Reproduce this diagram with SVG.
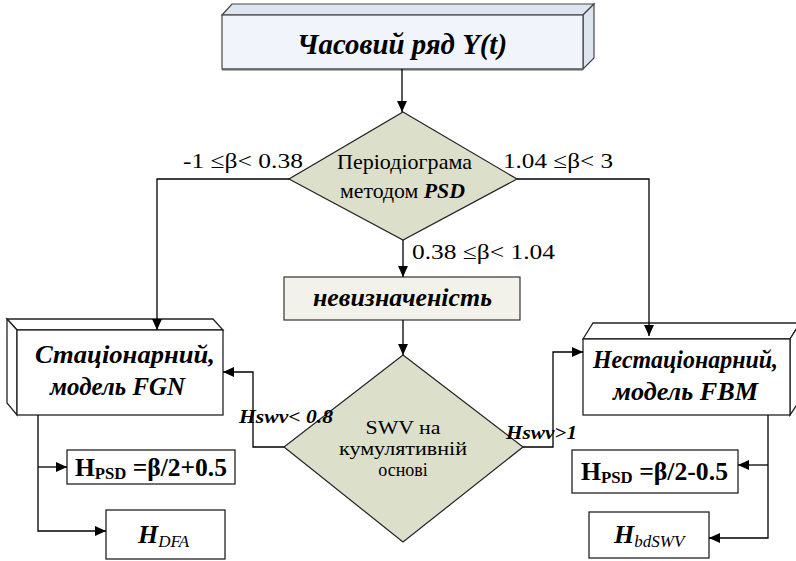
<svg xmlns="http://www.w3.org/2000/svg" width="796" height="561" viewBox="0 0 796 561">
<style>
text{font-family:"Liberation Serif","Times New Roman",serif;fill:#000}
.bi{font-weight:bold;font-style:italic}
.ln{fill:none;stroke:#000;stroke-width:1.3}
.bx{fill:#fff;stroke:#222;stroke-width:1.3}
.dia{fill:#dcdfca;stroke:#222;stroke-width:1.2}
</style>
<defs>
<marker id="ar" viewBox="0 0 10 10" refX="10" refY="5" markerWidth="11" markerHeight="11" markerUnits="userSpaceOnUse" orient="auto">
<path d="M0,0.5 L10,5 L0,9.5 z" fill="#000"/>
</marker>
</defs>
<rect width="796" height="561" fill="#fff"/>

<g id="timeseries">
<polygon points="222,15 232,4 594,4 583,15" fill="#dde6f0" stroke="#444" stroke-width="1.2"/>
<polygon points="583,15 594,4 594,58 583,69" fill="#dde6f0" stroke="#444" stroke-width="1.2"/>
<rect x="222" y="15" width="361" height="54" fill="#f1f5fb" stroke="#444" stroke-width="1.2"/>
<line x1="222" y1="69.5" x2="583" y2="69.5" stroke="#666" stroke-width="2"/>
<text x="297" y="54" font-size="30" class="bi" textLength="210" lengthAdjust="spacingAndGlyphs">Часовий ряд Y(t)</text>
</g>

<g id="psd">
<polygon points="403,112 517,179 403,240 289,179" class="dia"/>
<text x="337" y="169" font-size="21" textLength="135" lengthAdjust="spacingAndGlyphs">Періодіограма</text>
<text x="340" y="198" font-size="21" textLength="125" lengthAdjust="spacingAndGlyphs">методом <tspan class="bi">PSD</tspan></text>
</g>

<g id="uncertainty">
<rect x="284" y="277" width="236" height="43" fill="#f2f2ea" stroke="#333" stroke-width="1.2"/>
<text x="313" y="306" font-size="25" class="bi" textLength="179" lengthAdjust="spacingAndGlyphs">невизначеність</text>
</g>

<g id="swv">
<polygon points="403,355 523,447 403,542 284,447" class="dia"/>
<text x="403" y="434" font-size="18" text-anchor="middle" textLength="75" lengthAdjust="spacingAndGlyphs">SWV на</text>
<text x="403" y="455" font-size="18" text-anchor="middle" textLength="128" lengthAdjust="spacingAndGlyphs">кумулятивній</text>
<text x="403" y="476" font-size="18" text-anchor="middle">основі</text>
</g>

<g id="stationary">
<polygon points="7,319 213,319 223,330 17,330" class="bx"/>
<polygon points="7,319 17,330 17,415 7,403" class="bx"/>
<rect x="17" y="330" width="206" height="85" class="bx"/>
<text x="35" y="363" font-size="26" class="bi" textLength="180" lengthAdjust="spacingAndGlyphs">Стаціонарний,</text>
<text x="50" y="395" font-size="26" class="bi" textLength="135" lengthAdjust="spacingAndGlyphs">модель FGN</text>
</g>

<g id="nonstationary">
<polygon points="583,339 593,323 800,323 790,339" class="bx"/>
<polygon points="790,339 800,323 800,400 790,415" class="bx"/>
<rect x="583" y="339" width="207" height="76" class="bx"/>
<text x="593" y="368" font-size="25" class="bi" textLength="185" lengthAdjust="spacingAndGlyphs">Нестаціонарний,</text>
<text x="613" y="400" font-size="25" class="bi" textLength="145" lengthAdjust="spacingAndGlyphs">модель FBM</text>
</g>

<g id="hpsd-fgn">
<rect x="67" y="450" width="168" height="34" class="bx"/>
<text x="75" y="476" font-size="26" font-weight="bold" textLength="152" lengthAdjust="spacingAndGlyphs">H<tspan font-size="17" dy="3">PSD</tspan><tspan dy="-3"> =β/2+0.5</tspan></text>
</g>

<g id="hdfa">
<rect x="106" y="510" width="119" height="49" class="bx"/>
<text x="138" y="543" font-size="26" class="bi">H<tspan font-size="17" font-weight="normal" dy="4">DFA</tspan></text>
</g>

<g id="hpsd-fbm">
<rect x="572" y="450" width="166" height="43" class="bx"/>
<text x="581" y="480" font-size="26" font-weight="bold" textLength="147" lengthAdjust="spacingAndGlyphs">H<tspan font-size="17" dy="3">PSD</tspan><tspan dy="-3"> =β/2-0.5</tspan></text>
</g>

<g id="hbdswv">
<rect x="589" y="512" width="120" height="46" class="bx"/>
<text x="614" y="543" font-size="26" class="bi">H<tspan font-size="17" font-weight="normal" dy="4">bdSWV</tspan></text>
</g>

<g id="connectors" class="ln">
<path d="M402,69 V112" marker-end="url(#ar)"/>
<path d="M289,179 H157 V330" marker-end="url(#ar)"/>
<path d="M517,179 H649 V336" marker-end="url(#ar)"/>
<path d="M403,240 V277" marker-end="url(#ar)"/>
<path d="M403,320 V355" marker-end="url(#ar)"/>
<path d="M284,447 H253 V372 H223" marker-end="url(#ar)"/>
<path d="M523,447 H553 V352 H583" marker-end="url(#ar)"/>
<path d="M38,415 V531 H106" marker-end="url(#ar)"/>
<path d="M38,467 H67" marker-end="url(#ar)"/>
<path d="M768,415 V538 H709" marker-end="url(#ar)"/>
<path d="M768,465 H738" marker-end="url(#ar)"/>
</g>

<g id="labels">
<text x="183" y="168" font-size="22" textLength="120" lengthAdjust="spacingAndGlyphs">-1 ≤β&lt; 0.38</text>
<text x="503" y="168" font-size="22" textLength="110" lengthAdjust="spacingAndGlyphs">1.04 ≤β&lt; 3</text>
<text x="412" y="259" font-size="22" textLength="143" lengthAdjust="spacingAndGlyphs">0.38 ≤β&lt; 1.04</text>
<text x="239" y="423" font-size="19" class="bi" textLength="94" lengthAdjust="spacingAndGlyphs">Hswv&lt; 0.8</text>
<text x="506" y="439" font-size="19" class="bi" textLength="71" lengthAdjust="spacingAndGlyphs">Hswv&gt;1</text>
</g>
</svg>
